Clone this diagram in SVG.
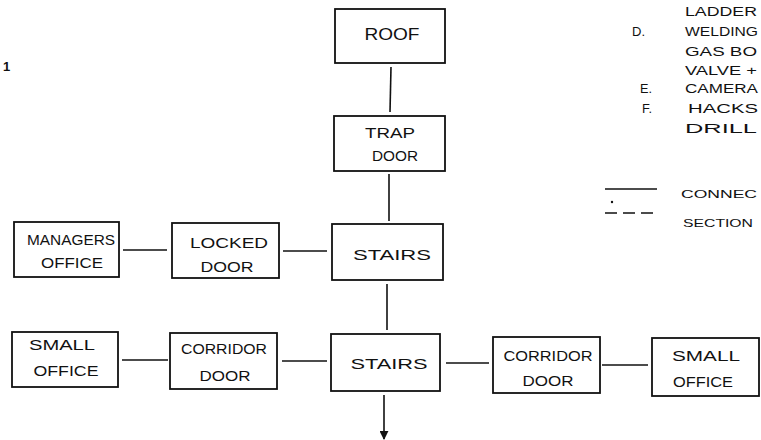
<svg xmlns="http://www.w3.org/2000/svg" width="761" height="440" viewBox="0 0 761 440">
<defs>
<style>
.box{fill:none;stroke:#111;stroke-width:1.8}
.c{stroke:#111;stroke-width:1.6;fill:none}
.t{font-family:"Liberation Sans",Arial,sans-serif;font-size:15px;fill:#111;text-anchor:middle}
.s{font-size:14px}
.lg{font-family:"Liberation Sans",Arial,sans-serif;font-size:12.5px;fill:#111}
</style>
<marker id="ah" viewBox="0 0 10 10" refX="9" refY="5" markerWidth="9" markerHeight="9" orient="auto" markerUnits="userSpaceOnUse">
<path d="M0,0 L10,5 L0,10 z" fill="#111"/>
</marker>
</defs>
<rect width="761" height="440" fill="#fff"/>

<g id="connectors">
<line class="c" x1="391" y1="67" x2="390" y2="112"/>
<line class="c" x1="389" y1="174" x2="389" y2="221"/>
<line class="c" x1="387" y1="284" x2="387" y2="330"/>
<line class="c" x1="384" y1="395" x2="384" y2="439" marker-end="url(#ah)"/>
<line class="c" x1="123" y1="250" x2="167" y2="250"/>
<line class="c" x1="283" y1="251" x2="327" y2="251"/>
<line class="c" x1="122" y1="360" x2="168" y2="360"/>
<line class="c" x1="282" y1="361" x2="327" y2="361"/>
<line class="c" x1="446" y1="363" x2="489" y2="363"/>
<line class="c" x1="602" y1="365" x2="648" y2="365"/>
</g>

<g id="roof"><rect class="box" x="335" y="9" width="110" height="54"/><text class="t" x="392" y="40" style="font-size:16px" textLength="55" lengthAdjust="spacingAndGlyphs">ROOF</text></g>
<g id="trapdoor"><rect class="box" x="334" y="116" width="111" height="55"/><text class="t s" x="390" y="138" textLength="50" lengthAdjust="spacingAndGlyphs">TRAP</text><text class="t" x="395" y="161" textLength="46" lengthAdjust="spacingAndGlyphs">DOOR</text></g>
<g id="stairs1"><rect class="box" x="332" y="224" width="111" height="56"/><text class="t" x="392" y="260" textLength="78" lengthAdjust="spacingAndGlyphs">STAIRS</text></g>
<g id="stairs2"><rect class="box" x="331" y="334" width="109" height="57"/><text class="t" x="389" y="369" textLength="77" lengthAdjust="spacingAndGlyphs">STAIRS</text></g>
<g id="managers"><rect class="box" x="14" y="222" width="105" height="55"/><text class="t s" x="71" y="245" textLength="88" lengthAdjust="spacingAndGlyphs">MANAGERS</text><text class="t s" x="72" y="268" textLength="62" lengthAdjust="spacingAndGlyphs">OFFICE</text></g>
<g id="lockeddoor"><rect class="box" x="172" y="223" width="107" height="55"/><text class="t s" x="229" y="248" textLength="78" lengthAdjust="spacingAndGlyphs">LOCKED</text><text class="t s" x="227" y="272" textLength="53" lengthAdjust="spacingAndGlyphs">DOOR</text></g>
<g id="smalloffice-left"><rect class="box" x="12" y="332" width="106" height="55"/><text class="t s" x="62" y="350" textLength="66" lengthAdjust="spacingAndGlyphs">SMALL</text><text class="t s" x="66" y="376" textLength="65" lengthAdjust="spacingAndGlyphs">OFFICE</text></g>
<g id="corridordoor-left"><rect class="box" x="170" y="333" width="107" height="56"/><text class="t s" x="224" y="354" textLength="86" lengthAdjust="spacingAndGlyphs">CORRIDOR</text><text class="t s" x="225" y="381" textLength="51" lengthAdjust="spacingAndGlyphs">DOOR</text></g>
<g id="corridordoor-right"><rect class="box" x="493" y="337" width="107" height="56"/><text class="t s" x="548" y="361" textLength="89" lengthAdjust="spacingAndGlyphs">CORRIDOR</text><text class="t s" x="548" y="386" textLength="51" lengthAdjust="spacingAndGlyphs">DOOR</text></g>
<g id="smalloffice-right"><rect class="box" x="652" y="338" width="107" height="58"/><text class="t s" x="706" y="361" textLength="68" lengthAdjust="spacingAndGlyphs">SMALL</text><text class="t s" x="703" y="387" textLength="60" lengthAdjust="spacingAndGlyphs">OFFICE</text></g>

<g id="legend">
<text class="lg" x="685" y="16" textLength="72" lengthAdjust="spacingAndGlyphs">LADDER</text>
<text class="lg" x="632" y="36" textLength="13" lengthAdjust="spacingAndGlyphs">D.</text><text class="lg" x="685" y="36" textLength="73" lengthAdjust="spacingAndGlyphs">WELDING</text>
<text class="lg" x="685" y="56" textLength="72" lengthAdjust="spacingAndGlyphs">GAS BO</text>
<text class="lg" x="685" y="75" textLength="72" lengthAdjust="spacingAndGlyphs">VALVE +</text>
<text class="lg" x="640" y="93" textLength="12" lengthAdjust="spacingAndGlyphs">E.</text><text class="lg" x="685" y="93" textLength="73" lengthAdjust="spacingAndGlyphs">CAMERA</text>
<text class="lg" x="642" y="113" textLength="10" lengthAdjust="spacingAndGlyphs">F.</text><text class="lg" x="688" y="113" textLength="70" lengthAdjust="spacingAndGlyphs">HACKS</text>
<text class="lg" x="685" y="133" textLength="72" lengthAdjust="spacingAndGlyphs">DRILL</text>
<line class="c" x1="605" y1="189" x2="657" y2="189"/>
<circle cx="612" cy="202" r="1.2" fill="#111"/>
<text class="lg" x="681" y="198" style="font-size:11.5px" textLength="76" lengthAdjust="spacingAndGlyphs">CONNEC</text>
<line class="c" x1="605" y1="213" x2="653" y2="213" stroke-dasharray="12,6"/>
<text class="lg" x="683" y="227" style="font-size:11.5px" textLength="70" lengthAdjust="spacingAndGlyphs">SECTION</text>
</g>
<text x="3" y="71" style="font-family:'Liberation Sans',sans-serif;font-size:13px;font-weight:bold;fill:#111">1</text>
</svg>
